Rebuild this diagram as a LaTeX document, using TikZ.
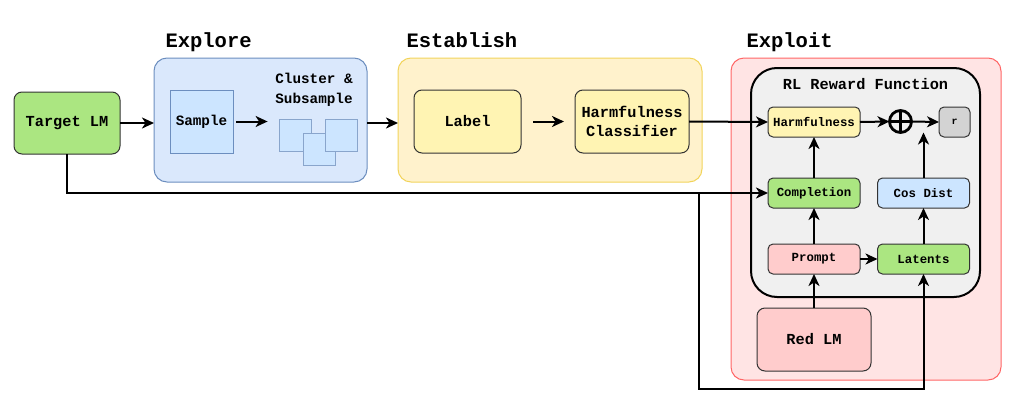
\documentclass[tikz,border=0pt]{standalone}
\usepackage{fontspec}
\setmainfont{Liberation Mono}
\usepackage{tikz}
\usetikzlibrary{calc,arrows.meta}

\definecolor{lmgreen}{HTML}{ABE681}
\definecolor{exbg}{HTML}{DAE8FC}
\definecolor{exline}{HTML}{6C8EBF}
\definecolor{smpfill}{HTML}{CCE5FF}
\definecolor{esbg}{HTML}{FFF2CC}
\definecolor{esline}{HTML}{F2D45C}
\definecolor{lblfill}{HTML}{FFF4B3}
\definecolor{xpbg}{HTML}{FFE4E4}
\definecolor{xpline}{HTML}{FF6666}
\definecolor{rlbg}{HTML}{F0F0F0}
\definecolor{pink}{HTML}{FFCCCC}
\definecolor{rgray}{HTML}{D3D3D3}

\begin{document}
\begin{tikzpicture}[x=1pt,y=-1pt,
	box/.style={draw=black!80,line width=1pt,rounded corners=8pt,inner sep=0pt,outer sep=0pt,align=center,font=\fontsize{15.3}{19}\selectfont\bfseries},
	small/.style={box,rounded corners=5pt,minimum width=92pt,minimum height=30pt,font=\fontsize{12.4}{15}\selectfont\bfseries},
	area/.style={line width=1pt,rounded corners=13pt,inner sep=0pt,outer sep=0pt},
	title/.style={anchor=base west,font=\fontsize{20.5}{24}\selectfont\bfseries},
	conn/.style={line width=2pt,-{Stealth[length=12pt,width=11pt,inset=3.5pt]}},
	wire/.style={line width=2pt}]
	
	\useasboundingbox (0,0) rectangle (1018,407);
	
	% stages
	\node[area,fill=exbg,draw=exline,minimum width=213pt,minimum height=124pt] (explore) at (260.5,120) {};
	\node[area,fill=esbg,draw=esline,minimum width=304pt,minimum height=124pt] (establish) at (550,120) {};
	\node[area,fill=xpbg,draw=xpline,minimum width=270pt,minimum height=322pt] (exploit) at (866,219) {};
	\node[title] (tExplore) at (162,47) {Explore};
	\node[title] (tEstablish) at (403,47) {Establish};
	\node[title] (tExploit) at (743,47) {Exploit};
	
	\node[box,fill=lmgreen,minimum width=106pt,minimum height=62pt] (target) at (67,123) {Target LM};
	
	% explore
	\node[box,fill=smpfill,draw=exline,rounded corners=0pt,minimum width=63pt,minimum height=63pt,font=\fontsize{14.3}{17}\selectfont\bfseries] (sample) at (201.5,121.5) {Sample};
	\node[align=center,font=\fontsize{14.3}{19.5}\selectfont\bfseries] (cluster) at (314,90) {Cluster \&\\Subsample};
	\foreach \n/\x/\y in {sq1/295/135,sq2/319/149,sq3/341.5/135}
		\node[fill=smpfill,draw=exline!80,line width=0.8pt,minimum width=32pt,minimum height=32pt,inner sep=0pt] (\n) at (\x,\y) {};
	
	% establish
	\node[box,fill=lblfill,minimum width=107pt,minimum height=63pt] (label) at (467.5,121.5) {Label};
	\node[box,fill=lblfill,minimum width=114pt,minimum height=63pt] (classifier) at (632,121.5) {Harmfulness\\Classifier};
	
	% exploit
	\node[area,fill=rlbg,draw=black,line width=2pt,rounded corners=26pt,minimum width=229pt,minimum height=229pt] (rl) at (865.5,182.5) {};
	\node[font=\fontsize{15.3}{19}\selectfont\bfseries] (tRl) at (865.5,84) {RL Reward Function};
	\node[small,fill=lblfill] (harm) at (814,122) {Harmfulness};
	\node[small,fill=lmgreen] (completion) at (814,193) {Completion};
	\node[small,fill=pink] (prompt) at (814,259) {Prompt};
	\node[small,fill=smpfill] (cosdist) at (923.5,193) {Cos Dist};
	\node[small,fill=lmgreen] (latents) at (923.5,259) {Latents};
	\node[small,fill=rgray,minimum width=31pt,font=\fontsize{10}{12}\selectfont\bfseries] (r) at (954.5,122) {r};
	\node[circle,draw,line width=2.8pt,minimum size=22pt,inner sep=0pt,outer sep=0pt] (plus) at (900.5,121.5) {};
	\draw[line width=2.8pt] (plus.north) -- (plus.south) (plus.west) -- (plus.east);
	\node[box,fill=pink,minimum width=114pt,minimum height=63pt] (redlm) at (814,339.5) {Red LM};
	
	% connectors
	\draw[conn] (target.east) -- (target.east -| explore.west);
	\draw[conn,shorten <=3pt,shorten >=11pt] (sample.east) -- (sample.east -| sq1.west);
	\draw[conn] (explore.east |- target.east) -- (establish.west |- target.east);
	\draw[conn,shorten <=12pt,shorten >=11pt] (label.east) -- (classifier.west);
	\draw[conn] (classifier.east) -- (harm.west);
	\draw[wire] (target.south) |- (699,193) coordinate (split);
	\draw[conn] (split) -- (completion.west);
	\draw[conn] (split) -- (699,389) -| (latents.south);
	\draw[conn] (redlm.north) -- (prompt.south);
	\draw[conn] (prompt.east) -- (latents.west);
	\draw[conn] (prompt.north) -- (completion.south);
	\draw[conn] (completion.north) -- (harm.south);
	\draw[conn] (latents.north) -- (cosdist.north |- cosdist.south);
	\draw[conn] (cosdist.north) -- (cosdist.north |- plus.south);
	\draw[conn] (harm.east) -- (plus.west);
	\draw[conn] (plus.east) -- (r.west);
	
\end{tikzpicture}
\end{document}
